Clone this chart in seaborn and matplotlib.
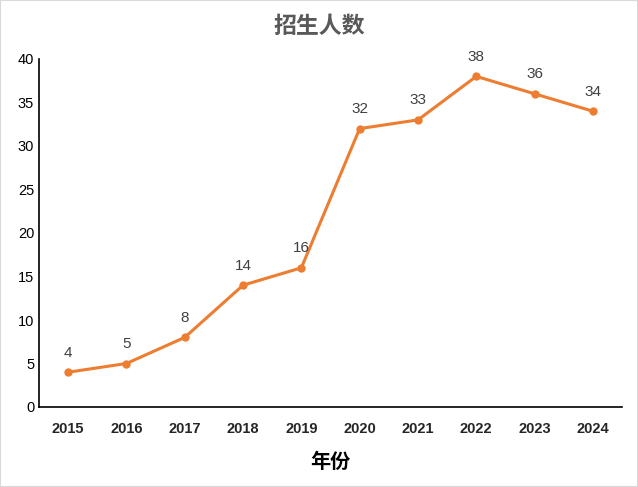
import seaborn as sns
import matplotlib.pyplot as plt
import pandas as pd

years = ["2015", "2016", "2017", "2018", "2019", "2020", "2021", "2022", "2023", "2024"]
students = [4, 5, 8, 14, 16, 32, 33, 38, 36, 34]

sns.set_style("white")
plt.rcParams['font.family'] = ['Liberation Sans', 'Noto Sans CJK SC', 'DejaVu Sans']

df = pd.DataFrame({"year": years, "count": students})

fig = plt.figure(figsize=(6.38, 4.87), dpi=100)
ax = fig.add_axes([39 / 638, 1 - 407 / 487, 583 / 638, 348 / 487])

sns.lineplot(data=df, x="year", y="count", ax=ax, color="#ED7D31",
             linewidth=2.2, marker="o", markersize=6, markeredgewidth=0)

for i, v in enumerate(students):
    ax.annotate(str(v), (i, v), xytext=(0, 9), textcoords="offset points",
                ha="center", va="bottom", fontsize=11, color="#404040")

ax.set_xlim(-0.5, len(years) - 0.5)
ax.set_ylim(0, 40)
ax.set_yticks(range(0, 41, 5))
ax.tick_params(axis="both", length=0, labelsize=10.5, colors="black")
ax.tick_params(axis="x", pad=11)
for lab in ax.get_xticklabels():
    lab.set_fontweight("bold")
    lab.set_color("#262626")

for side in ["top", "right"]:
    ax.spines[side].set_visible(False)
for side in ["left", "bottom"]:
    ax.spines[side].set_color("black")
    ax.spines[side].set_linewidth(1.2)

ax.set_ylabel("")
ax.set_xlabel("年份", fontsize=14.5, fontweight="bold", color="black", labelpad=12)
fig.suptitle("招生人数", fontsize=16.5, fontweight="bold", color="#595959", y=0.97)

fig.patches.append(plt.Rectangle((0, 0), 1, 1, transform=fig.transFigure,
                                 fill=False, edgecolor="#D9D9D9", linewidth=1.5))

fig.savefig("out.png", dpi=100)
